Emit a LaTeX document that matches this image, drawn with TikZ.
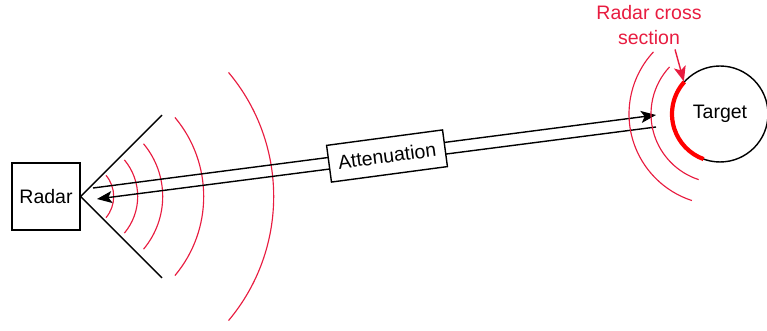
\documentclass[tikz,border=0pt]{standalone}
\usepackage{fontspec}
\setmainfont{Liberation Sans}
\usepackage{xcolor}
\usetikzlibrary{arrows.meta, positioning}
\definecolor{wavered}{RGB}{232,28,64}

\begin{document}
\begin{tikzpicture}[>={Stealth[length=3mm, width=2.4mm, inset=0.7mm]}, x=0.02cm, y=0.02cm,
  font=\fontsize{11.1}{14.2}\selectfont, line width=0.8pt,
  box/.style={draw, rectangle, inner sep=0pt},
  wave/.style={wavered, line width=0.65pt}]
  \useasboundingbox (0,0) rectangle (767,331);
  \node[box, minimum width=1.36cm, minimum height=1.34cm] (radar) at (46,134.5) {Radar};
  \coordinate (apex) at (radar.east);
  % antenna cone
  \draw (apex) -- +(45:115);
  \draw (apex) -- +(-45:115);
  % outgoing wave fronts
  \foreach \r in {33,57,82,123,193}
    \draw[wave] (apex) ++(-40:\r) arc[start angle=-40, end angle=40, radius=\r];
  % transmit / echo paths
  \coordinate (txs) at (93,143);
  \coordinate (txe) at (656,216);
  \coordinate (rxs) at (656,204);
  \coordinate (rxe) at (97,132);
  \draw[->] (txs) -- (txe);
  \draw[->] (rxs) -- (rxe);
  \node[box, fill=white, rotate=7.6, minimum width=2.34cm, minimum height=0.74cm] (att) at (387,175) {Attenuation};
  % target with reflected fronts
  \node[draw, circle, minimum size=1.92cm, inner sep=0pt] (target) at (720,217) {Target};
  \foreach \r in {69,91}
    \draw[wave] (target.center) ++(137:\r) arc[start angle=137, end angle=252, radius=\r];
  \draw[red, line width=2.4pt] (target.center) ++(138:48) arc[start angle=138, end angle=250, radius=48];
  \node[wavered, align=center] (rcs) at (649,306) {Radar cross\\section};
  \draw[->, wavered] ([xshift=0.52cm, yshift=1pt]rcs.south) -- (target.138);
\end{tikzpicture}
\end{document}
